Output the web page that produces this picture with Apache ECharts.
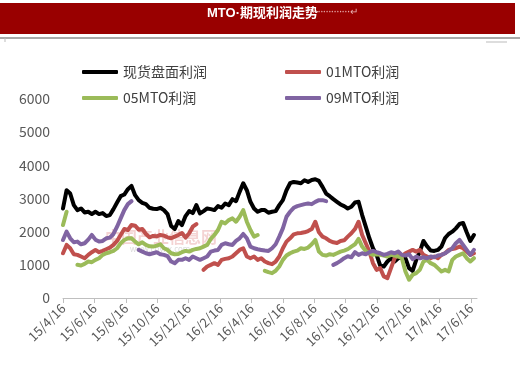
<!DOCTYPE html>
<html>
<head>
<meta charset="utf-8">
<script src="https://cdn.jsdelivr.net/npm/echarts@6/dist/echarts.min.js"></script>
<style>
html,body{margin:0;padding:0;background:#fff;}
#chart{width:520px;height:366px;}
</style>
</head>
<body>
<div id="chart"></div>
<script>
// ---- data (weekly readings) ----
const dates = [
'2015-04-16','2015-04-23','2015-04-30','2015-05-07','2015-05-14','2015-05-21','2015-05-28','2015-06-04','2015-06-11','2015-06-18',
'2015-06-25','2015-07-02','2015-07-09','2015-07-16','2015-07-23','2015-07-30','2015-08-06','2015-08-13','2015-08-20','2015-08-27',
'2015-09-03','2015-09-10','2015-09-17','2015-09-24','2015-10-01','2015-10-08','2015-10-15','2015-10-22','2015-10-29','2015-11-05',
'2015-11-12','2015-11-19','2015-11-26','2015-12-03','2015-12-10','2015-12-17','2015-12-24','2015-12-31','2016-01-07','2016-01-14',
'2016-01-21','2016-01-28','2016-02-04','2016-02-11','2016-02-18','2016-02-25','2016-03-03','2016-03-10','2016-03-17','2016-03-24',
'2016-03-31','2016-04-07','2016-04-14','2016-04-21','2016-04-28','2016-05-05','2016-05-12','2016-05-19','2016-05-26','2016-06-02',
'2016-06-09','2016-06-16','2016-06-23','2016-06-30','2016-07-07','2016-07-14','2016-07-21','2016-07-28','2016-08-04','2016-08-11',
'2016-08-18','2016-08-25','2016-09-01','2016-09-08','2016-09-15','2016-09-22','2016-09-29','2016-10-06','2016-10-13','2016-10-20',
'2016-10-27','2016-11-03','2016-11-10','2016-11-17','2016-11-24','2016-12-01','2016-12-08','2016-12-15','2016-12-22','2016-12-29',
'2017-01-05','2017-01-12','2017-01-19','2017-01-26','2017-02-02','2017-02-09','2017-02-16','2017-02-23','2017-03-02','2017-03-09',
'2017-03-16','2017-03-23','2017-03-30','2017-04-06','2017-04-13','2017-04-20','2017-04-27','2017-05-04','2017-05-11','2017-05-18',
'2017-05-25','2017-06-01','2017-06-08','2017-06-15','2017-06-22'
];
const spotProfit = [
2700,3250,3150,2800,2650,2700,2580,2600,2530,2600,
2530,2560,2470,2500,2680,2880,3070,3120,3280,3380,
3100,2950,2870,2830,2720,2690,2680,2720,2650,2530,
2170,2080,2320,2200,2470,2620,2560,2800,2550,2620,
2700,2680,2650,2770,2720,2850,2800,2980,2920,3200,
3460,3250,2900,2700,2600,2650,2650,2570,2600,2620,
2800,2950,3250,3460,3500,3480,3460,3550,3500,3560,
3580,3530,3350,3150,3070,2980,2900,2820,2770,2700,
2750,2880,2900,2500,2150,1800,1500,1300,980,950,
1100,1200,1100,1200,1220,1200,900,820,1150,1400,
1720,1560,1430,1420,1450,1550,1810,1930,2000,2100,
2230,2260,1980,1720,1900
];
const mto01 = [
1350,1600,1500,1320,1300,1250,1200,1300,1380,1450,
1380,1420,1470,1520,1600,1720,1900,2080,2050,2200,
2180,2060,2080,1930,1830,1870,1860,1900,1880,1830,
1800,1850,1900,1960,1820,1950,2150,2230,null,850,
950,1000,1050,1000,1150,1180,1200,1250,1350,1450,
1500,1250,1200,1250,1150,1200,1100,1050,1020,1100,
1250,1500,1700,1800,1920,1950,1960,1980,2020,2080,
2300,1980,1850,1800,1720,1680,1660,1720,1740,1850,
1950,2080,2300,1900,1650,1400,1050,850,900,650,
600,900,1200,1300,1250,1350,1400,1450,1400,1450,
1300,1250,1200,1250,1200,1300,1350,1450,1480,1500,
1550,1500,1400,1300,1350
];
const mto05 = [
2200,2600,null,null,1000,980,1030,1100,1080,1150,
1200,1300,1350,1380,1420,1500,1650,1750,1800,1800,
1700,1620,1680,1600,1560,1550,1580,1620,1500,1450,
1350,1320,1330,1380,1420,1400,1450,1480,1500,1550,
1600,1780,1900,2050,2300,2250,2350,2400,2300,2450,
2650,2300,2050,1850,1900,null,820,780,750,820,
950,1150,1280,1350,1400,1430,1500,1480,1520,1620,
1750,1400,1300,1280,1320,1300,1350,1400,1430,1470,
1550,1620,1780,1550,1420,1350,1300,1320,1300,1280,
1250,1300,1280,1250,1200,800,550,700,750,850,
1100,1150,1050,1000,900,800,850,800,1150,1250,
1300,1350,1200,1100,1200
];
const mto09 = [
1750,2000,1800,1680,1700,1620,1650,1760,1900,1760,
1700,1720,1800,1820,1930,2150,2400,2650,2830,2920,
null,1450,1400,1350,1320,1350,1380,1320,1300,1260,
1100,1050,1150,1150,1200,1150,1250,1200,1150,1200,
1250,1400,1430,1450,1600,1650,1620,1600,1720,1800,
1930,1800,1550,1500,1470,1450,1430,1420,1500,1620,
1850,2100,2450,2600,2720,2770,2800,2830,2850,2830,
2900,2950,2950,2920,null,1000,1050,1120,1200,1260,
1230,1380,1300,1350,1320,1380,1420,1380,1350,1300,
1330,1380,1350,1400,1300,1280,1320,1170,1250,1200,
1230,1200,1250,1230,1280,1300,1350,1420,1500,1650,
1750,1600,1450,1300,1450
];
const seriesNames = ['现货盘面利润','01MTO利润','05MTO利润','09MTO利润'];
const tickLabels = ['15/4/16','15/6/16','15/8/16','15/10/16','15/12/16','16/2/16','16/4/16','16/6/16','16/8/16','16/10/16','16/12/16','17/2/16','17/4/16','17/6/16'];
const titleText = 'MTO·期现利润走势';

// ---- build ----
function tickTs(s){ const p = s.split('/'); return Date.UTC(2000 + (+p[0]), (+p[1]) - 1, +p[2]); }
function dateTs(s){ const p = s.split('-'); return Date.UTC(+p[0], (+p[1]) - 1, +p[2]); }
const tickValues = tickLabels.map(tickTs);
function pairs(arr){ return dates.map((d,i)=>[dateTs(d), arr[i] == null ? '-' : arr[i]]); }

const colors = ['#000000','#c0504d','#9bbb59','#8064a2'];
const allData = [spotProfit, mto01, mto05, mto09];
const font = '"Noto Sans CJK SC", "Noto Sans", sans-serif';

const chart = echarts.init(document.getElementById('chart'), null, {renderer:'canvas'});
const legendPos = [[77,60],[280,60],[77,86],[280,86]];
chart.setOption({
  animation:false,
  backgroundColor:'#ffffff',
  grid:{left:63, right:43, top:99, bottom:68},
  legend: seriesNames.map((n,i)=>({
    data:[n], left:legendPos[i][0], top:legendPos[i][1],
    icon:'roundRect', itemWidth:36, itemHeight:4, itemGap:6,
    textStyle:{fontSize:14, color:'#404040', fontFamily:font},
    selectedMode:false
  })),
  graphic:[
    {type:'rect', left:0, top:3, shape:{width:515, height:31}, style:{fill:'#990000'}, silent:true},
    {type:'text', left:207, top:7, style:{text:titleText, fill:'#ffffff', font:'bold 13px "Liberation Sans", "Noto Sans CJK SC", sans-serif'}},
    {type:'text', left:307, top:7, style:{text:'················↵', fill:'#e8b0b0', font:'10px "Noto Sans", sans-serif'}},
    {type:'line', shape:{x1:0, y1:38, x2:520, y2:38}, style:{stroke:'#8c8c8c', lineWidth:1.5}},
    {type:'line', shape:{x1:486, y1:42, x2:507, y2:42}, style:{stroke:'#bbbbbb', lineWidth:1}},
    {type:'line', shape:{x1:5, y1:38, x2:5, y2:42}, style:{stroke:'#bbbbbb', lineWidth:1}},
    {type:'text', left:105, top:229, z:-1, style:{text:'中国产业信息网', fill:'rgba(220,110,110,0.30)', font:'bold 16px "Noto Sans CJK SC", sans-serif'}},
    {type:'text', left:130, top:246, z:-1, style:{text:'www.chyxx.com', fill:'rgba(150,150,150,0.35)', font:'8px "Noto Sans", sans-serif'}}
  ],
  xAxis:{
    type:'value',
    min: tickValues[0],
    max: Date.UTC(2017,5,28),
    axisLine:{show:true, lineStyle:{color:'#bfbfbf', width:1}},
    axisTick:{show:true, length:5, customValues:tickValues, lineStyle:{color:'#bfbfbf'}},
    axisLabel:{
      customValues:tickValues, rotate:45, fontSize:13, color:'#595959', fontFamily:font, margin:8,
      formatter:(v)=>{ const k = tickValues.indexOf(v); return k >= 0 ? tickLabels[k] : ''; }
    },
    splitLine:{show:false}
  },
  yAxis:{
    type:'value', min:0, max:6000, interval:1000,
    axisLine:{show:false}, axisTick:{show:false}, splitLine:{show:false},
    axisLabel:{fontSize:14, color:'#595959', fontFamily:font, margin:13, formatter:(v)=>String(v)}
  },
  series: seriesNames.map((n,i)=>({
    name:n, type:'line', data:pairs(allData[i]), showSymbol:false, symbol:'none',
    color:colors[i], lineStyle:{width:4, color:colors[i], join:'round', cap:'round'},
    connectNulls:false
  }))
});
</script>
</body>
</html>
